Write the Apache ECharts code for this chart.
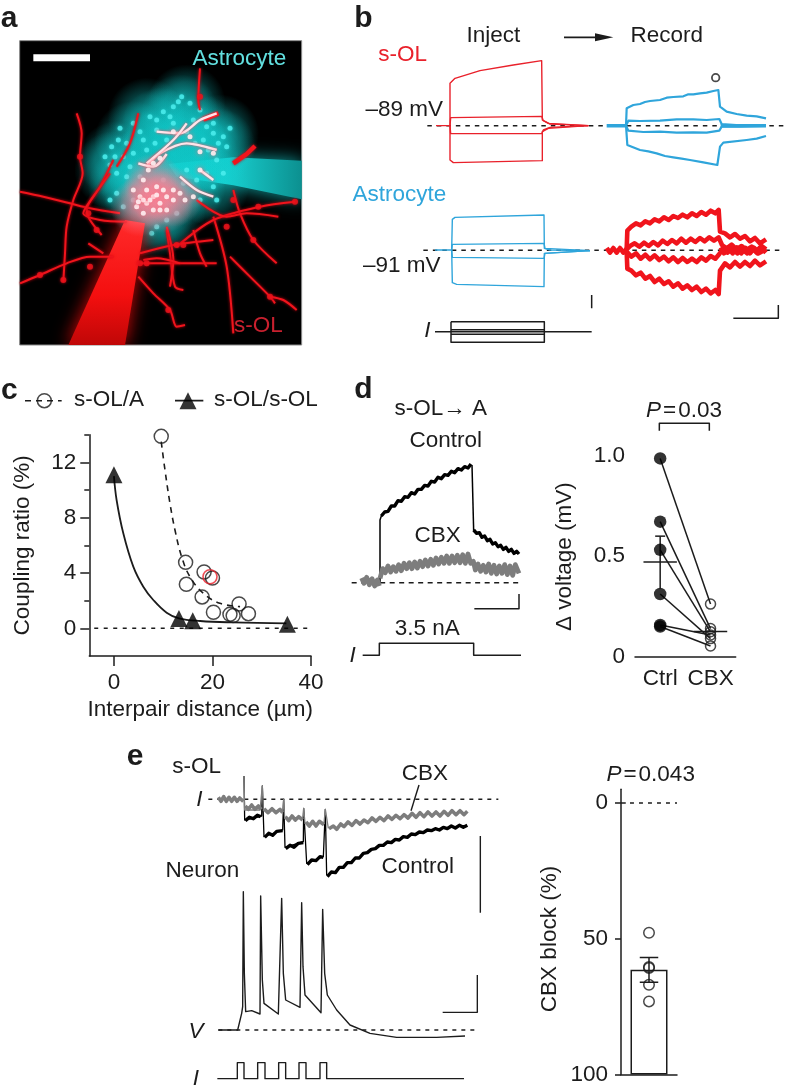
<!DOCTYPE html>
<html><head><meta charset="utf-8">
<style>html,body{margin:0;padding:0;background:#fff}#c{width:788px;height:1086px}</style>
<script src="https://cdn.jsdelivr.net/npm/echarts@6/dist/echarts.min.js"></script>
</head><body><div id="c"></div>
<script>
// ---------- panel c values ----------
const cOpen=[[9.6,13.88],[14.55,4.77],[14.7,3.18],[18.3,4.07],[20,3.64],[17.9,2.27],[20.2,1.16],[23.55,1.01],[24.2,0.92],[25.4,1.76],[27.3,1.06]];
const cRed=[[19.5,3.73]];
const cTri=[[0,11.1],[13.2,0.72],[16,0.55],[35.2,0.29]];
const cSolidFit=[[0,11],[0.54,9.28],[1.9,6.87],[3.93,4.46],[5.96,3.01],[7.99,2.05],[10.7,1.13],[13.2,0.72],[17.5,0.53],[24.2,0.43],[35,0.36]];
const cDashFit=[[9.6,13.5],[10.36,11.45],[11.37,9.04],[12.39,7.11],[13.74,5.18],[15.43,3.73],[18.14,2.53],[21.5,1.81],[25.6,1.57]];
const cZero=[[-4,0],[40,0]];
// ---------- panel d values ----------
const dCats=['Ctrl','CBX'];
const dCtrl=[0.987,0.672,0.532,0.312,0.158,0.15];
const dCbx=[0.262,0.14,0.124,0.09,0.108,0.053];
const dMeans=[[0,0.471],[1,0.126]];
const dErrCtrl=[[0,0.6],[0,0.34]];
// ---------- panel e bar values ----------
const eCats=['CBX'];
const eMean=61.4, eErrLow=56.9, eErrHigh=66;
const ePoints=[[1,47.8],[1,60.4],[1,60.8],[1,67],[1,73.1]];
// ---------- panel b traces (time, voltage in trace units) ----------
const bInjTop=[[288,377],[330,377],[330,250],[345,235],[420,212],[520,195],[605,182],[607,360],[625,370],[745,377]];
const bInjUp=[[330,377],[332,353],[605,349],[610,362],[630,372],[745,377]];
const bInjLow=[[330,377],[332,401],[605,401],[610,390],[630,382],[745,377]];
const bInjBot=[[330,377],[330,480],[340,488],[607,482],[607,395],[625,385],[745,377]];
const bRecTop=[[858,377],[860,325],[880,315],[900,312],[915,306],[930,303],[960,300],[980,293],[1000,291],[1030,289],[1045,283],[1060,283],[1080,280],[1100,278],[1120,273],[1135,270],[1140,320],[1160,335],[1190,342],[1220,347],[1250,349],[1278,355]];
const bRecUp=[[858,377],[865,362],[900,363],[960,362],[1010,358],[1060,358],[1100,360],[1138,357],[1145,372],[1200,376],[1278,377]];
const bRecLow=[[858,377],[865,392],[910,396],[960,395],[1010,398],[1060,397],[1100,398],[1138,392],[1145,380],[1200,380],[1278,378]];
const bRecBot=[[858,377],[862,435],[900,450],[925,454],[950,460],[975,468],[1000,472],[1025,476],[1050,480],[1090,487],[1132,495],[1140,440],[1150,428],[1220,420],[1250,416],[1278,408]];
const bRecBase=[[800,377],[860,377]];
const bRecBase2=[[1142,377],[1278,377]];
const bAstTop=[[285,750],[335,750],[337,658],[345,652],[612,645],[613,745],[630,750],[750,752]];
const bAstUp=[[335,750],[337,733],[612,730],[615,745],[750,752]];
const bAstLow=[[335,750],[337,772],[612,775],[615,760],[750,752]];
const bAstBot=[[335,750],[337,848],[350,853],[612,860],[613,760],[750,752]];
const bRedTop=[[860,748],[862,692],[874,680],[888,670],[902,676],[916,664],[930,670],[944,658],[958,664],[972,652],[986,660],[1000,648],[1014,654],[1028,644],[1042,652],[1056,640],[1070,648],[1084,636],[1098,644],[1112,632],[1126,640],[1136,630],[1140,695],[1155,700],[1170,712],[1185,702],[1200,716],[1215,708],[1230,724],[1245,714],[1260,730],[1278,718]];
const bRedUp=[[860,748],[870,738],[884,730],[898,740],[912,728],[926,738],[940,726],[954,736],[968,722],[982,732],[996,720],[1010,730],[1024,716],[1038,728],[1052,716],[1066,726],[1080,714],[1094,724],[1108,712],[1122,722],[1136,712],[1146,735],[1160,745],[1175,734],[1190,748],[1205,738],[1220,750],[1235,740],[1250,752],[1265,738],[1278,748]];
const bRedLow=[[860,755],[874,770],[888,760],[902,776],[916,764],[930,778],[944,766],[958,780],[972,770],[986,784],[1000,772],[1014,786],[1028,774],[1042,786],[1056,776],[1070,786],[1084,772],[1098,782],[1112,768],[1126,776],[1138,762],[1148,748],[1162,758],[1177,746],[1192,760],[1207,748],[1222,760],[1237,746],[1252,760],[1267,746],[1278,758]];
const bRedBot=[[860,755],[862,806],[874,812],[888,826],[902,818],[916,836],[930,828],[944,846],[958,836],[972,852],[986,844],[1000,860],[1014,850],[1028,866],[1042,856],[1056,870],[1070,860],[1084,876],[1098,866],[1112,880],[1126,870],[1136,882],[1140,812],[1155,790],[1170,802],[1185,786],[1200,800],[1215,786],[1230,798],[1245,782],[1260,796],[1278,784]];
const bRedBase=[[800,744],[810,758],[820,744],[830,758],[840,744],[850,758],[860,746]];
const bRedBase2=[[1142,742],[1152,760],[1165,742],[1178,760],[1191,742],[1204,760],[1217,744],[1230,760],[1243,744],[1256,760],[1278,748]];
const bDot1=[[262,377],[1340,377]];
const bDot2=[[250,751],[1330,751]];
const bStep=[[285,995],[755,995]];
const bBoxA=[[333,965],[613,965],[613,1027],[333,1027],[333,965]];
const bBoxB=[[333,989],[613,989]];
const bBoxC=[[333,1003],[613,1003]];
const bScale1=[[755,885],[755,925]];
const bScale2=[[1180,955],[1315,955],[1315,915]];
const bArrow=[[672,112],[775,112]];
const bArrowHead=[[765,100],[820,112],[765,124]];
const bMark=[[1127,233]];
// ---------- panel d traces ----------
const dCtrlRise=[[120,640],[120,450],[126,432]];
const dCtrlDrop=[[396,285],[401,482]];
const dCtrlA=[[124,438],[134,426],[144,424],[154,408],[164,408],[174,392],[184,394],[194,380],[204,382],[214,368],[224,372],[234,358],[244,358],[254,346],[264,348],[274,334],[284,336],[294,322],[304,326],[314,314],[324,316],[334,304],[344,308],[354,296],[364,300],[374,290],[384,294],[393,282]];
const dCtrlB=[[401,480],[410,490],[418,488],[426,502],[434,498],[442,512],[450,508],[458,522],[466,518],[474,530],[482,526],[490,538],[498,532],[506,544],[514,538],[522,550],[530,544],[537,552]];
const dGrayA=[[65,624],[72,640],[80,622],[88,644],[96,626],[104,648],[112,630],[118,648]];
const dGrayB=[[120,625],[128,596],[136,608],[144,588],[152,606],[160,590],[168,604],[176,584],[184,602],[192,580],[200,596],[208,578],[216,596],[224,576],[232,594],[240,574],[248,590],[256,570],[264,588],[272,568],[280,586],[288,564],[296,582],[304,562],[312,580],[320,558],[328,580],[336,558],[344,578],[352,556],[360,578],[368,554],[376,580],[384,552],[392,580],[400,574],[406,600],[414,582],[422,604],[430,586],[438,606],[446,582],[454,610],[462,586],[470,612],[478,588],[486,610],[494,584],[502,614],[510,588],[518,616],[526,584],[537,610]];
const dDash=[[35,638],[548,638]];
const dScale=[[403,716],[537,716],[537,672]];
const dStim=[[68,856],[118,856],[118,820],[401,820],[401,856],[543,856]];
const dBracket=[[958,182],[958,160],[1108,160],[1108,182]];
// ---------- panel e traces ----------
const eCtrlThin=[[372,108],[374,240],[425,228],[427,138],[432,290],[488,270],[491,178],[495,322],[550,305],[551,205],[560,370],[610,350],[616,208],[620,405]];
const eCtrlA=[[376,242],[388,232],[400,236],[412,226],[422,230]];
const eCtrlB=[[434,292],[446,280],[458,286],[470,274],[488,272]];
const eCtrlC=[[497,326],[510,316],[522,322],[535,310],[550,308]];
const eCtrlD=[[562,374],[575,360],[588,362],[600,350],[610,352]];
const eCtrlE=[[622,410],[634,396],[646,398],[658,382],[670,382],[682,368],[694,368],[706,354],[718,354],[730,340],[742,338],[754,328],[766,326],[778,316],[790,316],[802,306],[814,308],[826,298],[838,300],[850,290],[862,292],[874,282],[886,284],[898,276],[910,278],[922,270],[934,272],[946,266],[958,270],[970,262],[982,266],[994,258],[1006,264],[1018,256],[1030,262],[1042,256]];
const eGrayA=[[295,172],[303,184],[311,170],[319,184],[327,172],[335,184],[343,172],[351,184],[359,174],[370,184]];
const eGrayThin=[[372,108],[374,210],[420,210],[427,138],[430,212],[488,212],[491,178],[494,235],[548,235],[551,205],[555,250],[612,250],[616,208],[625,265]];
const eGrayB=[[376,198],[385,208],[395,195],[405,208],[415,198],[424,208]];
const eGrayC=[[432,206],[444,218],[456,206],[468,218],[480,208],[488,218]];
const eGrayD=[[496,230],[506,242],[516,228],[526,240],[536,230],[548,240]];
const eGrayE=[[558,246],[568,258],[578,244],[588,258],[598,244],[612,254]];
const eGrayF=[[627,266],[640,258],[650,268],[662,252],[672,260],[684,246],[696,256],[708,242],[720,252],[732,240],[744,248],[756,234],[768,244],[780,232],[792,242],[804,228],[816,238],[828,226],[840,236],[852,224],[864,234],[876,220],[888,232],[900,218],[912,230],[924,216],[936,228],[948,216],[960,228],[972,214],[984,226],[996,212],[1008,224],[1020,212],[1032,224],[1042,214]];
const eDash1=[[265,178],[1135,178]];
const eDash2=[[295,870],[1075,870]];
const eLeader=[[897,135],[873,212]];
const eScale1=[[1081,288],[1081,518]];
const eScale2=[[968,817],[1072,817],[1072,705]];
const eVolt=[[295,870],[353,870],[365,820],[368,800],[370,455],[373,700],[377,815],[395,812],[420,822],[422,468],[427,720],[432,790],[475,822],[485,475],[490,700],[497,780],[540,802],[545,488],[549,680],[555,765],[603,818],[608,508],[614,700],[622,765],[650,810],[690,855],[750,880],[830,892],[950,892],[1035,888]];
const eStim=[[292,1016],[352,1016],[352,968],[372,968],[372,1016],[413,1016],[413,968],[435,968],[435,1016],[476,1016],[476,968],[497,968],[497,1016],[537,1016],[537,968],[558,968],[558,1016],[600,1016],[600,968],[620,968],[620,1016],[1032,1016]];
// ---------- legend glyphs of panel c ----------
const cLegDash=[[75,92],[185,92]];
const cLegSolid=[[525,92],[610,92]];
const cLegOpen=[[133,92]];
const cLegTri=[[564,92]];
// ---------- panel a micrograph ----------
const aDend=[
[[230,340],[245,400],[240,470],[248,520],[220,600],[200,680],[195,760],[190,845]],
[[60,575],[130,590],[210,610],[270,625],[360,640]],
[[60,850],[120,825],[200,790],[270,770],[340,770]],
[[340,480],[300,560],[260,630],[270,660],[305,705]],
[[600,205],[595,300],[600,330]],
[[415,830],[460,880],[510,930],[530,980],[555,975]],
[[500,690],[510,760],[525,860],[550,870]],
[[420,790],[520,790],[650,790]],
[[640,650],[680,800],[700,1000]],
[[700,570],[720,640],[760,720],[830,790]],
[[530,740],[640,660],[780,620],[885,605]],
[[690,770],[750,830],[810,890],[825,910]],
[[810,890],[850,900],[890,930]],
[[590,600],[680,650],[740,640],[835,650]],
[[420,760],[520,735],[640,720]],
[[580,690],[600,760],[620,800]],
[[265,730],[310,760]],
[[330,520],[280,590],[250,640],[300,660],[380,665]],
[[500,680],[520,780],[510,860]],
[[430,780],[470,775],[540,790]],
[[415,340],[390,430],[350,500]]];
const aDendPink=[
[[470,395],[540,400],[600,360],[650,340]],
[[440,500],[480,460],[560,430],[650,450]],
[[560,370],[520,420],[440,490]],
[[540,530],[590,570],[640,590]],
[[600,510],[640,540]],
[[415,490],[460,500],[500,462]]];
const aThick=[[[700,490],[740,462],[765,438]],[[610,358],[655,340]]];
const aBeads=[[240,470],[265,640],[290,690],[270,800],[120,825],[190,840],[505,930],[810,890],[775,620],[700,600],[530,735],[550,735],[440,790],[420,790],[600,290],[680,680],[760,720],[885,605]];
const aSoft=[[480,380],[540,340],[600,400],[400,420],[350,480],[430,500],[520,460],[600,470],[650,440],[380,560],[560,560],[630,560],[500,640],[460,660],[340,510],[560,310],[440,350],[660,400],[480,540],[540,520],[420,570],[480,440],[560,420]];
const aPinkSoft=[[450,590],[490,610],[420,620],[520,590],[460,550]];
const aSpecks=[[545,290],[570,310],[520,320],[490,335],[600,330],[450,350],[400,370],[360,385],[355,420],[335,440],[315,470],[330,495],[350,520],[640,370],[690,385],[670,410],[655,430],[620,380],[580,360],[520,370],[470,390],[430,420],[400,460],[370,470],[440,450],[500,420],[560,395],[610,420],[650,480],[670,520],[640,560],[600,600],[650,600],[470,680],[500,660],[455,700],[530,640],[380,530],[350,580],[330,600],[370,620],[420,530],[490,540],[560,510],[620,520],[535,305],[510,350],[470,360],[420,395],[380,430],[345,470],[390,500],[465,430],[530,400],[585,430],[625,450],[640,400],[680,440],[590,540],[550,550],[400,600]];
const aWhite=[[400,570],[420,590],[440,570],[460,590],[480,610],[500,590],[520,600],[440,610],[410,620],[460,630],[430,640],[500,630],[540,580],[580,590],[470,560],[430,540],[445,510],[460,490],[480,475],[600,455],[640,460],[520,395],[570,410],[600,510],[450,600],[470,585],[490,570],[430,600],[415,605],[480,630],[520,570],[555,600]];
const aRedPipette=[[375,660],[435,670],[375,1035],[205,1035]];
const aCyanPipette=[[905,482],[905,598],[700,556],[530,530],[505,492],[700,472]];
const aBar=[[100,173],[270,173]];
</script>
<script>
const F='"Liberation Sans",Arial,sans-serif', FS=22.5, INK='#1c1c1c', RED='#e9212b', BLUE='#2fa5db', GRAY='#7d7d7d', PURE='#f0141c';
const grids=[], xAxes=[], yAxes=[], series=[];
function overlay(l,t,w,h,x0,x1,y0,y1){
  const i=grids.length;
  grids.push({left:l,top:t,width:w,height:h,containLabel:false});
  xAxes.push({gridIndex:i,type:'value',min:x0,max:x1,show:false});
  yAxes.push({gridIndex:i,type:'value',min:y0,max:y1,inverse:true,show:false});
  return i;
}
function L(g,yI,data,color,width,extra){
  const o={type:'line',xAxisIndex:g,yAxisIndex:yI,data,symbol:'none',silent:true,animation:false,clip:false,
    lineStyle:Object.assign({color,width,cap:'butt',join:'round'},extra||{})};
  if(extra&&extra.smooth){o.smooth=extra.smooth;delete o.lineStyle.smooth;}
  series.push(o);
  return o;
}
function S(x,y,data,symbol,size,style,z){
  const o={type:'scatter',xAxisIndex:x,yAxisIndex:y,data,symbol,symbolSize:size,itemStyle:style,silent:true,animation:false,clip:false,z:z||3};
  series.push(o);return o;
}
function P(x,y,pts,style,z){
  series.push({type:'custom',xAxisIndex:x,yAxisIndex:y,data:pts,silent:true,animation:false,clip:true,z:z||2,
    renderItem:(p,api)=>p.dataIndex>0?null:{type:'polygon',shape:{points:pts.map(q=>api.coord(q))},style}});
}
function radial(rgb,a){return {type:'radial',x:.5,y:.5,r:.5,colorStops:[{offset:0,color:`rgba(${rgb},${a})`},{offset:.55,color:`rgba(${rgb},${a*.6})`},{offset:1,color:`rgba(${rgb},0)`}]};}
// ---------------- grids ----------------
const gA=overlay(59/3,122/3,282,913/3,59,905,122,1035);
grids[gA].show=true;grids[gA].backgroundColor='#000';grids[gA].borderColor='#8a8a8a';grids[gA].borderWidth=1;
const gB=overlay(340,0,448,360,0,1344,0,1080);
const gCL=overlay(0,370,340,360,0,1020,0,1080);
const gD=overlay(340,370,448,340,0,1344,0,1020);
const gE=overlay(120,740,400,346,0,1200,0,1038);
// c real axes
const gC=grids.length;
grids.push({left:89.3,top:434.7,width:221.7,height:221.3});
const tickLab={fontFamily:F,fontSize:FS,color:INK};
const axl={onZero:false,lineStyle:{color:INK,width:1.5}};
xAxes.push({gridIndex:gC,type:'value',min:-5,max:40,axisLine:axl,splitLine:{show:false},
  axisTick:{length:10,lineStyle:{color:INK,width:1.5},customValues:[0,20,40]},
  axisLabel:Object.assign({margin:15,customValues:[0,20,40]},tickLab),
  name:'Interpair distance (\u00b5m)',nameLocation:'middle',nameGap:42,nameTextStyle:tickLab});
const yC=yAxes.length;
yAxes.push({gridIndex:gC,type:'value',position:'left',min:-2,max:14,axisLine:axl,splitLine:{show:false},
  axisTick:{length:9,lineStyle:{color:INK,width:1.5},customValues:[0,4,8,12]},
  axisLabel:Object.assign({margin:13,customValues:[0,4,8,12]},tickLab),
  name:'Coupling ratio (%)',nameLocation:'middle',nameGap:55,nameTextStyle:tickLab});
const yC2=yAxes.length;
yAxes.push({gridIndex:gC,type:'value',position:'left',min:-2,max:14,axisLine:{show:false,onZero:false},splitLine:{show:false},
  axisTick:{length:5,lineStyle:{color:INK,width:1.5},customValues:[2,6,10,14]},axisLabel:{show:false}});
series.push({type:'line',xAxisIndex:gC,yAxisIndex:yC2,data:[],silent:true});
// d real axes
const gD2=grids.length;
grids.push({left:635,top:435.7,width:100.7,height:221});
xAxes.push({gridIndex:gD2,type:'category',data:dCats,axisLine:axl,axisTick:{show:false},
  axisLabel:Object.assign({margin:11,interval:0},tickLab)});
const yD=yAxes.length;
yAxes.push({gridIndex:gD2,type:'value',position:'left',min:0,max:1.1,axisLine:axl,splitLine:{show:false},
  axisTick:{length:8,lineStyle:{color:INK,width:1.5},customValues:[0,0.5,1]},
  axisLabel:Object.assign({margin:10,customValues:[0,0.5,1],formatter:v=>v===0?'0':v.toFixed(1)},tickLab)});
const yD2=yAxes.length;
yAxes.push({gridIndex:gD2,type:'value',position:'left',min:0,max:1.1,axisLine:{show:false,onZero:false},splitLine:{show:false},
  axisTick:{length:5,lineStyle:{color:INK,width:1.5},customValues:[0.1,0.2,0.3,0.4,0.6,0.7,0.8,0.9,1.1]},axisLabel:{show:false}});
series.push({type:'line',xAxisIndex:gD2,yAxisIndex:yD2,data:[],silent:true});
// e real axes
const gE2=grids.length;
grids.push({left:621,top:789.3,width:56,height:288.4});
xAxes.push({gridIndex:gE2,type:'value',min:0,max:2,axisLine:axl,axisTick:{show:false},axisLabel:{show:false},splitLine:{show:false}});
const yE=yAxes.length;
yAxes.push({gridIndex:gE2,type:'value',position:'left',min:-5,max:100,inverse:true,axisLine:axl,splitLine:{show:false},
  axisTick:{length:6,lineStyle:{color:INK,width:1.5},customValues:[0,50,100]},
  axisLabel:Object.assign({margin:13,customValues:[0,50,100]},tickLab)});
const xE2=xAxes.length;
xAxes.push({gridIndex:gE2,type:'category',data:eCats,show:false,position:'top'});

// ---------------- panel a ----------------
S(gA,gA,aSoft,'circle',78,{color:radial('16,205,205',.68)},2).clip=true;
P(gA,gA,aCyanPipette,{fill:{type:'linear',x:0,y:0,x2:1,y2:0,colorStops:[{offset:0,color:'#3cf0f0'},{offset:.45,color:'#18cfcf'},{offset:1,color:'#0c9090'}]},shadowBlur:18,shadowColor:'#0fa5a5'},2);
S(gA,gA,aSpecks,'circle',5,{color:'#4ff0f0',opacity:.8,shadowBlur:3,shadowColor:'#20d0d0'},2).clip=true;
P(gA,gA,aRedPipette,{fill:{type:'linear',x:0,y:0,x2:0,y2:1,colorStops:[{offset:0,color:'#ff2a2a'},{offset:.6,color:'#f40f0f'},{offset:1,color:'#c00707'}]},shadowBlur:18,shadowColor:'#d80808'},3);
aDend.forEach(d=>{const s=L(gA,gA,d,PURE,2,{shadowBlur:3,shadowColor:'#d00010',smooth:.3});s.clip=true;s.z=4;});
aThick.forEach(d=>{const s=L(gA,gA,d,PURE,4.5,{shadowBlur:3,shadowColor:'#d00010'});s.clip=true;s.z=4;});
S(gA,gA,aPinkSoft,'circle',60,{color:radial('255,130,150',.8)},4);
aDendPink.forEach(d=>{L(gA,gA,d,'#ffe4ea',2.4,{shadowBlur:3,shadowColor:'#ff5060',smooth:.3}).z=5;});
S(gA,gA,aBeads,'circle',6,{color:PURE,shadowBlur:3,shadowColor:'#d00010'},4);
S(gA,gA,aWhite,'circle',5,{color:'#ffeef1',opacity:.9,shadowBlur:5,shadowColor:'#ff6a7a'},5);
L(gA,gA,aBar,'#fff',7).z=6;

// ---------------- panel b ----------------
[bDot1,bDot2].forEach(d=>L(gB,gB,d,INK,1.5,{type:[4.5,5]}));
[bInjTop,bInjUp,bInjLow,bInjBot].forEach(d=>L(gB,gB,d,RED,1.4));
[bAstTop,bAstUp,bAstLow,bAstBot].forEach(d=>L(gB,gB,d,BLUE,1.4));
[bRecTop,bRecUp,bRecLow,bRecBot].forEach(d=>L(gB,gB,d,BLUE,2.2));
[bRecBase,bRecBase2].forEach(d=>L(gB,gB,d,BLUE,3.5));
[bRedTop,bRedUp,bRedLow,bRedBot,bRedBase,bRedBase2].forEach(d=>L(gB,gB,d,PURE,4.6));
[bStep,bBoxA,bBoxB,bBoxC,bScale1,bScale2].forEach(d=>L(gB,gB,d,INK,1.5));
L(gB,gB,bArrow,INK,1.6);
P(gB,gB,bArrowHead,{fill:INK},4);
S(gB,gB,bMark,'circle',7.5,{color:'transparent',borderColor:INK,borderWidth:1.8});

// ---------------- panel c ----------------
L(gC,yC,cZero,INK,1.5,{type:[4,5.5]});
L(gC,yC,cSolidFit,INK,1.8,{smooth:.4});
L(gC,yC,cDashFit,INK,1.6,{type:[6,5],smooth:.4});
S(gC,yC,cOpen,'circle',14,{color:'transparent',borderColor:INK,borderWidth:1.5},4);
S(gC,yC,cRed,'circle',14,{color:'transparent',borderColor:RED,borderWidth:1.6},5);
S(gC,yC,cTri,'triangle',17,{color:'#000'},5);
L(gCL,gCL,cLegDash,INK,1.5,{type:[6,5]});
L(gCL,gCL,cLegSolid,INK,1.8);
S(gCL,gCL,cLegOpen,'circle',14,{color:'transparent',borderColor:INK,borderWidth:1.5},4);
S(gCL,gCL,cLegTri,'triangle',17,{color:'#000'},5);

// ---------------- panel d ----------------
L(gD,gD,dDash,INK,1.5,{type:[5,4.5]});
[dCtrlA,dCtrlB].forEach(d=>L(gD,gD,d,'#000',3.4));
[dCtrlRise,dCtrlDrop].forEach(d=>L(gD,gD,d,'#000',1.5));
[dGrayA,dGrayB].forEach(d=>L(gD,gD,d,GRAY,4.8));
[dScale,dStim,dBracket].forEach(d=>L(gD,gD,d,INK,1.5));
dCtrl.forEach((v,i)=>L(gD2,yD,[[0,v],[1,dCbx[i]]],INK,1.5));
L(gD2,yD,dErrCtrl,INK,1.5);
series.push({type:'custom',xAxisIndex:gD2,yAxisIndex:yD,data:dMeans,silent:true,animation:false,z:3,clip:false,
  renderItem:(p,api)=>{const c=api.coord([api.value(0),api.value(1)]);return {type:'line',shape:{x1:c[0]-16.7,y1:c[1],x2:c[0]+16.7,y2:c[1]},style:{stroke:INK,lineWidth:1.5}};}});
series.push({type:'custom',xAxisIndex:gD2,yAxisIndex:yD,data:[dErrCtrl[0]],silent:true,animation:false,z:3,clip:false,
  renderItem:(p,api)=>{const c=api.coord([api.value(0),api.value(1)]);return {type:'line',shape:{x1:c[0]-5,y1:c[1],x2:c[0]+5,y2:c[1]},style:{stroke:INK,lineWidth:1.5}};}});
S(gD2,yD,dCtrl.map(v=>[0,v]),'circle',12.5,{color:'#000'},5);
S(gD2,yD,dCbx.map(v=>[1,v]),'circle',10,{color:'transparent',borderColor:INK,borderWidth:1.5},5);

// ---------------- panel e ----------------
[eDash1,eDash2].forEach(d=>L(gE,gE,d,INK,1.5,{type:[4,5]}));
L(gE,gE,eCtrlThin,'#000',1.3);
[eCtrlA,eCtrlB,eCtrlC,eCtrlD,eCtrlE].forEach(d=>L(gE,gE,d,'#000',3.4));
L(gE,gE,eGrayThin,GRAY,1.3);
[eGrayA,eGrayB,eGrayC,eGrayD,eGrayE,eGrayF].forEach(d=>L(gE,gE,d,GRAY,3.6));
[eLeader,eScale1,eScale2,eVolt,eStim].forEach(d=>L(gE,gE,d,INK,1.4));
// bar + errors
series.push({type:'bar',xAxisIndex:xE2,yAxisIndex:yE,stack:'b',data:[eMean],barWidth:37,itemStyle:{color:'transparent'},silent:true,animation:false,z:2});
series.push({type:'bar',xAxisIndex:xE2,yAxisIndex:yE,stack:'b',data:[100-eMean],barWidth:37,itemStyle:{color:'#fff',borderColor:INK,borderWidth:1.5},silent:true,animation:false,z:2});
L(gE2,yE,[[1,eErrLow],[1,eErrHigh]],INK,1.5);
L(gE2,yE,[[0.67,eErrLow],[1.33,eErrLow]],INK,1.5);
L(gE2,yE,[[0.67,eErrHigh],[1.33,eErrHigh]],INK,1.5);
L(gE2,yE,[[0,0],[0.17,0]],INK,1.5);
L(gE2,yE,[[0.32,0],[2,0]],INK,1.5,{type:[4,5]});
S(gE2,yE,ePoints,'circle',10.5,{color:'transparent',borderColor:INK,borderWidth:1.5},5);

// ---------------- text ----------------
const texts=[];
function T(ox,oy,zx,zy,text,o){
  o=o||{};
  texts.push({type:'text',z:50,rotation:o.rot||0,x:ox+zx/3,y:oy+zy/3,
    style:{text,fontFamily:F,fontSize:o.size||FS,fontWeight:o.bold?'bold':'normal',fontStyle:o.it?'italic':'normal',fill:o.color||INK,
      align:'center',verticalAlign:'middle',rich:o.rich}});
}
const pRich={i:{fontFamily:F,fontSize:FS,fontStyle:'italic',fill:INK},e:{fontFamily:F,fontSize:FS,fill:INK,padding:[0,2,0,2]},n:{fontFamily:F,fontSize:FS,fill:INK}};
T(0,0,27,55,'a',{bold:true,size:30});
T(0,0,718,175,'Astrocyte',{color:'#62e0e0'});
T(0,0,775,977,'s-OL',{color:'#c8202e'});
T(340,0,70,55,'b',{bold:true,size:30});
T(340,0,460,108,'Inject');
T(340,0,980,108,'Record');
T(340,0,188,165,'s-OL',{color:RED});
T(340,0,193,330,'\u201389 mV');
T(340,0,178,584,'Astrocyte',{color:BLUE});
T(340,0,185,798,'\u201391 mV');
T(340,0,262,992,'I',{it:true});
T(0,370,28,62,'c',{bold:true,size:30});
T(0,370,327,90,'s-OL/A');
T(0,370,798,90,'s-OL/s-OL');
T(340,370,70,58,'d',{bold:true,size:30});
T(340,370,302,115,'s-OL\u2192 A');
T(340,370,317,213,'Control');
T(340,370,293,498,'CBX');
T(340,370,262,775,'3.5 nA');
T(340,370,38,856,'I',{it:true});
T(340,370,1032,122,'{i|P}{e|=}{n|0.03}',{rich:pRich});
T(340,370,675,560,'\u0394 voltage (mV)',{rot:Math.PI/2});
T(120,740,45,50,'e',{bold:true,size:30});
T(120,740,230,80,'s-OL');
T(120,740,915,100,'CBX');
T(120,740,238,178,'I',{it:true});
T(120,740,247,392,'Neuron');
T(120,740,893,380,'Control');
T(120,740,228,876,'V',{it:true});
T(120,740,228,1015,'I',{it:true});
T(520,750,392,75,'{i|P}{e|=}{n|0.043}',{rich:pRich});
T(520,750,90,567,'CBX block (%)',{rot:Math.PI/2});

const chart=echarts.init(document.getElementById('c'),null,{renderer:'canvas',width:788,height:1086});
chart.setOption({animation:false,backgroundColor:'#fff',grid:grids,xAxis:xAxes,yAxis:yAxes,series,graphic:{elements:texts}});
</script></body></html>
